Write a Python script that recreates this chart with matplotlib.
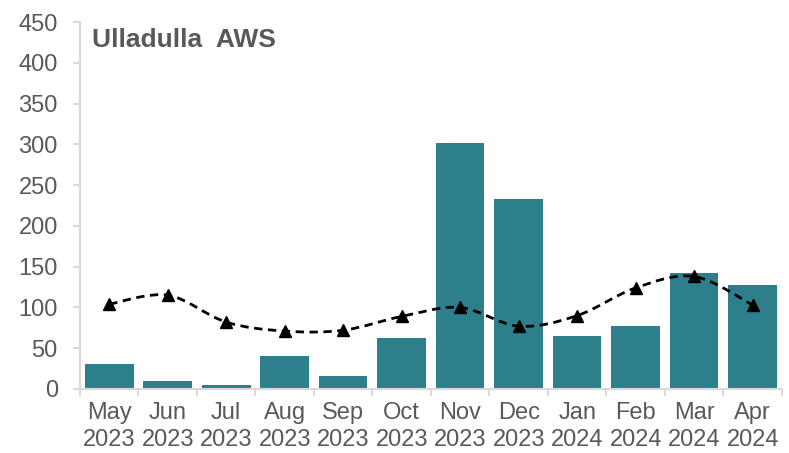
import matplotlib.pyplot as plt
import numpy as np
from matplotlib.path import Path
from matplotlib.patches import PathPatch

plt.rcParams['font.family'] = ['Liberation Sans', 'DejaVu Sans']

months = ['May\n2023', 'Jun\n2023', 'Jul\n2023', 'Aug\n2023', 'Sep\n2023', 'Oct\n2023',
          'Nov\n2023', 'Dec\n2023', 'Jan\n2024', 'Feb\n2024', 'Mar\n2024', 'Apr\n2024']
rainfall = [31, 10, 5, 41, 16, 62, 302, 233, 65, 77, 142, 128]
mean_rain = [104, 115, 82, 71, 72, 89, 100, 77, 90, 124, 138, 103]

BAR_COLOR = '#2E7F8C'
TEXT_COLOR = '#595959'
AXIS_COLOR = '#D9D9D9'


def smooth_path(xs, ys, t=1 / 6):
    # catmull-rom style bezier through the points, like Excel's smoothed line
    pts = np.column_stack([xs, ys]).astype(float)
    verts = [pts[0]]
    codes = [Path.MOVETO]
    n = len(pts)
    for i in range(n - 1):
        p0 = pts[i - 1] if i > 0 else pts[i]
        p1 = pts[i]
        p2 = pts[i + 1]
        p3 = pts[i + 2] if i + 2 < n else pts[i + 1]
        c1 = p1 + (p2 - p0) * t
        c2 = p2 - (p3 - p1) * t
        verts += [c1, c2, p2]
        codes += [Path.CURVE4] * 3
    return Path(verts, codes)


fig = plt.figure(figsize=(7.89, 4.53), dpi=100)
ax = fig.add_axes([0.1014, 0.1413, 0.8896, 0.8101])

x = np.arange(len(months))
ax.bar(x, rainfall, width=0.83, color=BAR_COLOR, zorder=2)

ax.add_patch(PathPatch(smooth_path(x, mean_rain), fill=False, edgecolor='black',
                       linewidth=2, linestyle=(0, (3, 2)), zorder=3))
ax.plot(x, mean_rain, linestyle='none', marker='^', markersize=8, color='black', zorder=4)

ax.set_xlim(-0.5, len(months) - 0.5)
ax.set_ylim(0, 450)
ax.set_yticks(np.arange(0, 451, 50))

ax.set_xticks(x)
ax.set_xticklabels(months, fontsize=17, color=TEXT_COLOR, linespacing=1.3)
ax.set_xticks(np.arange(-0.5, len(months), 1), minor=True)
ax.tick_params(axis='x', which='major', length=0, pad=9.5)
ax.tick_params(axis='x', which='minor', length=5, width=1.5, color=AXIS_COLOR)
ax.tick_params(axis='y', length=5, width=1.5, color=AXIS_COLOR, labelsize=17,
               labelcolor=TEXT_COLOR, pad=11)

for side in ['top', 'right']:
    ax.spines[side].set_visible(False)
for side in ['left', 'bottom']:
    ax.spines[side].set_color(AXIS_COLOR)
    ax.spines[side].set_linewidth(1.5)

ax.text(0.017, 0.985, 'Ulladulla  AWS', transform=ax.transAxes, fontsize=19,
        fontweight='bold', color=TEXT_COLOR, va='top', ha='left')

fig.savefig('out.png', dpi=100)
